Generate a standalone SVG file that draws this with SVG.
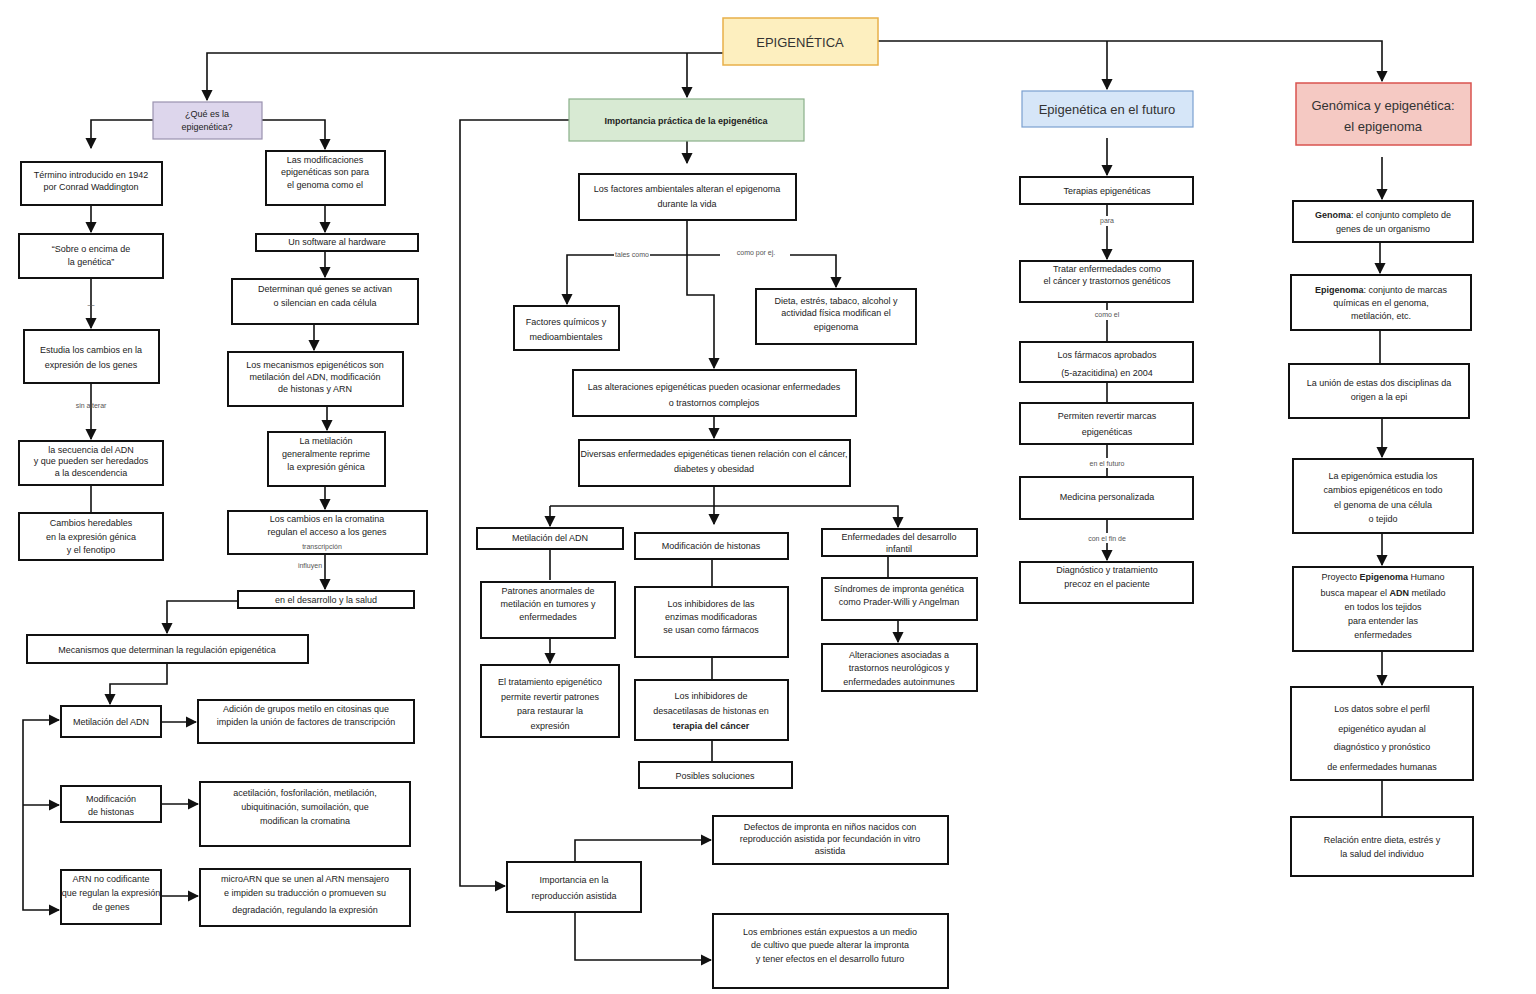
<svg xmlns="http://www.w3.org/2000/svg" width="1536" height="994" viewBox="0 0 1536 994">
<style>
.b{fill:#fff;stroke:#111;stroke-width:2}
.t{font-family:"Liberation Sans",Arial,sans-serif;font-size:9px;fill:#222;text-anchor:middle}
.h{font-family:"Liberation Sans",Arial,sans-serif;font-size:13px;fill:#333;text-anchor:middle}
.l{font-family:"Liberation Sans",Arial,sans-serif;font-size:7px;fill:#555;text-anchor:middle}
.c{fill:none;stroke:#111;stroke-width:1.6}
</style>
<defs><marker id="a" viewBox="0 0 10 10" refX="9" refY="5" markerWidth="7" markerHeight="7" orient="auto"><path d="M0,0L10,5L0,10z" fill="#111"/></marker></defs>
<rect width="1536" height="994" fill="#fff"/>
<g id="connectors">
<path class="c" d="M723,53H207V100" marker-end="url(#a)"/>
<path class="c" d="M687,53V97" marker-end="url(#a)"/>
<path class="c" d="M878,41H1382V81" marker-end="url(#a)"/>
<path class="c" d="M1107,41V89" marker-end="url(#a)"/>
<path class="c" d="M153,120H91V148" marker-end="url(#a)"/>
<path class="c" d="M262,120H325V149" marker-end="url(#a)"/>
<path class="c" d="M91,205V232" marker-end="url(#a)"/>
<path class="c" d="M91,278V328" marker-end="url(#a)"/>
<path class="c" d="M91,383V439" marker-end="url(#a)"/>
<path class="c" d="M91,485V513"/>
<path class="c" d="M325,205V232" marker-end="url(#a)"/>
<path class="c" d="M325,251V277" marker-end="url(#a)"/>
<path class="c" d="M314,324V350" marker-end="url(#a)"/>
<path class="c" d="M327,406V430" marker-end="url(#a)"/>
<path class="c" d="M325,486V509" marker-end="url(#a)"/>
<path class="c" d="M325,554V589" marker-end="url(#a)"/>
<path class="c" d="M238,601H167V633" marker-end="url(#a)"/>
<path class="c" d="M167,663V684H110V704" marker-end="url(#a)"/>
<path class="c" d="M161,722H196" marker-end="url(#a)"/>
<path class="c" d="M161,804H198" marker-end="url(#a)"/>
<path class="c" d="M161,896H198" marker-end="url(#a)"/>
<path class="c" d="M23,805V720H59" marker-end="url(#a)"/>
<path class="c" d="M23,805H59" marker-end="url(#a)"/>
<path class="c" d="M23,805V910H59" marker-end="url(#a)"/>
<path class="c" d="M687,141V163" marker-end="url(#a)"/>
<path class="c" d="M687,220V295H714V368" marker-end="url(#a)"/>
<path class="c" d="M614,255H567V304" marker-end="url(#a)"/>
<path class="c" d="M650,255H720"/>
<path class="c" d="M790,255H836V287" marker-end="url(#a)"/>
<path class="c" d="M714,416V438" marker-end="url(#a)"/>
<path class="c" d="M714,486V524" marker-end="url(#a)"/>
<path class="c" d="M550,506H898V527" marker-end="url(#a)"/>
<path class="c" d="M550,506V526" marker-end="url(#a)"/>
<path class="c" d="M550,549V580"/>
<path class="c" d="M550,638V663" marker-end="url(#a)"/>
<path class="c" d="M712,559V587"/>
<path class="c" d="M712,657V680"/>
<path class="c" d="M712,740V762"/>
<path class="c" d="M888,556V578"/>
<path class="c" d="M898,620V642" marker-end="url(#a)"/>
<path class="c" d="M569,120H460V886H505" marker-end="url(#a)"/>
<path class="c" d="M575,862V840H711" marker-end="url(#a)"/>
<path class="c" d="M575,912V960H711" marker-end="url(#a)"/>
<path class="c" d="M1107,138V175" marker-end="url(#a)"/>
<path class="c" d="M1107,204V216M1107,226V259" marker-end="url(#a)"/>
<path class="c" d="M1107,302V310M1107,320V342"/>
<path class="c" d="M1107,382V403"/>
<path class="c" d="M1107,444V458M1107,468V477"/>
<path class="c" d="M1107,519V533M1107,543V560" marker-end="url(#a)"/>
<path class="c" d="M1382,157V199" marker-end="url(#a)"/>
<path class="c" d="M1380,242V273" marker-end="url(#a)"/>
<path class="c" d="M1380,330V364"/>
<path class="c" d="M1382,418V457" marker-end="url(#a)"/>
<path class="c" d="M1382,533V565" marker-end="url(#a)"/>
<path class="c" d="M1382,651V685" marker-end="url(#a)"/>
<path class="c" d="M1382,780V817"/>
</g>
<g id="title"><rect x="723" y="18" width="155" height="47" fill="#fdefbf" stroke="#e8b04a" stroke-width="1.5"/><text class="h" x="800" y="47" font-size="17">EPIGENÉTICA</text></g>
<g id="h1"><rect x="153" y="102" width="109" height="37" fill="#ddd6ec" stroke="#9a92b0" stroke-width="1.2"/><text class="t" x="207" y="117">¿Qué es la</text><text class="t" x="207" y="130">epigenética?</text></g>
<g id="h2"><rect x="569" y="99" width="235" height="42" fill="#d8ead3" stroke="#8ab08a" stroke-width="1.2"/><text class="t" x="686" y="124" font-weight="bold">Importancia práctica de la epigenética</text></g>
<g id="h3"><rect x="1022" y="91" width="171" height="36" fill="#d6e6f8" stroke="#7aa0d0" stroke-width="1.2"/><text class="h" x="1107" y="114">Epigenética en el futuro</text></g>
<g id="h4"><rect x="1296" y="83" width="175" height="62" fill="#f5c9c3" stroke="#d9534f" stroke-width="1.5"/><text class="h" x="1383" y="110">Genómica y epigenética:</text><text class="h" x="1383" y="131">el epigenoma</text></g>

<g id="a1"><rect class="b" x="21" y="162" width="141" height="43"/><text class="t" x="91" y="178">Término introducido en 1942</text><text class="t" x="91" y="190">por Conrad Waddington</text></g>
<g id="a2"><rect class="b" x="19" y="234" width="144" height="44"/><text class="t" x="91" y="252">“Sobre o encima de</text><text class="t" x="91" y="265">la genética”</text></g>
<text class="l" x="91" y="307">—</text>
<g id="a3"><rect class="b" x="24" y="330" width="135" height="53"/><text class="t" x="91" y="353">Estudia los cambios en la</text><text class="t" x="91" y="368">expresión de los genes</text></g>
<text class="l" x="91" y="408">sin alterar</text>
<g id="a4"><rect class="b" x="19" y="441" width="144" height="44"/><text class="t" x="91" y="453">la secuencia del ADN</text><text class="t" x="91" y="464">y que pueden ser heredados</text><text class="t" x="91" y="476">a la descendencia</text></g>
<g id="a5"><rect class="b" x="19" y="513" width="144" height="47"/><text class="t" x="91" y="526">Cambios heredables</text><text class="t" x="91" y="540">en la expresión génica</text><text class="t" x="91" y="553">y el fenotipo</text></g>

<g id="b1"><rect class="b" x="266" y="151" width="119" height="54"/><text class="t" x="325" y="163">Las modificaciones</text><text class="t" x="325" y="175">epigenéticas son para</text><text class="t" x="325" y="188">el genoma como el</text></g>
<g id="b2"><rect class="b" x="256" y="234" width="162" height="17"/><text class="t" x="337" y="245">Un software al hardware</text></g>
<g id="b3"><rect class="b" x="232" y="279" width="186" height="45"/><text class="t" x="325" y="292">Determinan qué genes se activan</text><text class="t" x="325" y="306">o silencian en cada célula</text></g>
<g id="b4"><rect class="b" x="228" y="352" width="175" height="54"/><text class="t" x="315" y="368">Los mecanismos epigenéticos son</text><text class="t" x="315" y="380">metilación del ADN, modificación</text><text class="t" x="315" y="392">de histonas y ARN</text></g>
<g id="b5"><rect class="b" x="268" y="432" width="117" height="54"/><text class="t" x="326" y="444">La metilación</text><text class="t" x="326" y="457">generalmente reprime</text><text class="t" x="326" y="470">la expresión génica</text></g>
<g id="b6"><rect class="b" x="228" y="511" width="199" height="43"/><text class="t" x="327" y="522">Los cambios en la cromatina</text><text class="t" x="327" y="535">regulan el acceso a los genes</text><text class="l" x="322" y="549">transcripción</text></g>
<text class="l" x="310" y="568">influyen</text>
<g id="b7"><rect class="b" x="238" y="591" width="176" height="17"/><text class="t" x="326" y="603">en el desarrollo y la salud</text></g>
<g id="b8"><rect class="b" x="27" y="635" width="281" height="28"/><text class="t" x="167" y="653">Mecanismos que determinan la regulación epigenética</text></g>
<g id="b9"><rect class="b" x="61" y="706" width="100" height="31"/><text class="t" x="111" y="725">Metilación del ADN</text></g>
<g id="b9r"><rect class="b" x="198" y="700" width="216" height="43"/><text class="t" x="306" y="712">Adición de grupos metilo en citosinas que</text><text class="t" x="306" y="725">impiden la unión de factores de transcripción</text></g>
<g id="b10"><rect class="b" x="61" y="786" width="100" height="36"/><text class="t" x="111" y="802">Modificación</text><text class="t" x="111" y="815">de histonas</text></g>
<g id="b10r"><rect class="b" x="200" y="782" width="210" height="64"/><text class="t" x="305" y="796">acetilación, fosforilación, metilación,</text><text class="t" x="305" y="810">ubiquitinación, sumoilación, que</text><text class="t" x="305" y="824">modifican la cromatina</text></g>
<g id="b11"><rect class="b" x="61" y="870" width="100" height="54"/><text class="t" x="111" y="882">ARN no codificante</text><text class="t" x="111" y="896">que regulan la expresión</text><text class="t" x="111" y="910">de genes</text></g>
<g id="b11r"><rect class="b" x="200" y="869" width="210" height="57"/><text class="t" x="305" y="882">microARN que se unen al ARN mensajero</text><text class="t" x="305" y="896">e impiden su traducción o promueven su</text><text class="t" x="305" y="913">degradación, regulando la expresión</text></g>

<g id="c1"><rect class="b" x="579" y="174" width="217" height="46"/><text class="t" x="687" y="192">Los factores ambientales alteran el epigenoma</text><text class="t" x="687" y="207">durante la vida</text></g>
<text class="l" x="632" y="257">tales como</text><text class="l" x="756" y="255">como por ej.</text>
<g id="c2l"><rect class="b" x="514" y="306" width="105" height="44"/><text class="t" x="566" y="325">Factores químicos y</text><text class="t" x="566" y="340">medioambientales</text></g>
<g id="c2r"><rect class="b" x="756" y="289" width="160" height="55"/><text class="t" x="836" y="304">Dieta, estrés, tabaco, alcohol y</text><text class="t" x="836" y="316">actividad física modifican el</text><text class="t" x="836" y="330">epigenoma</text></g>
<g id="c3"><rect class="b" x="573" y="370" width="283" height="46"/><text class="t" x="714" y="390">Las alteraciones epigenéticas pueden ocasionar enfermedades</text><text class="t" x="714" y="406">o trastornos complejos</text></g>
<g id="c4"><rect class="b" x="579" y="440" width="271" height="46"/><text class="t" x="714" y="457">Diversas enfermedades epigenéticas tienen relación con el cáncer,</text><text class="t" x="714" y="472">diabetes y obesidad</text></g>
<g id="c5a"><rect class="b" x="477" y="528" width="146" height="21"/><text class="t" x="550" y="541">Metilación del ADN</text></g>
<g id="c5b"><rect class="b" x="635" y="533" width="153" height="26"/><text class="t" x="711" y="549">Modificación de histonas</text></g>
<g id="c5c"><rect class="b" x="822" y="529" width="155" height="27"/><text class="t" x="899" y="540">Enfermedades del desarrollo</text><text class="t" x="899" y="552">infantil</text></g>
<g id="c6a"><rect class="b" x="481" y="582" width="134" height="56"/><text class="t" x="548" y="594">Patrones anormales de</text><text class="t" x="548" y="607">metilación en tumores y</text><text class="t" x="548" y="620">enfermedades</text></g>
<g id="c6b"><rect class="b" x="635" y="587" width="153" height="70"/><text class="t" x="711" y="607">Los inhibidores de las</text><text class="t" x="711" y="620">enzimas modificadoras</text><text class="t" x="711" y="633">se usan como fármacos</text></g>
<g id="c6c"><rect class="b" x="822" y="578" width="155" height="42"/><text class="t" x="899" y="592">Síndromes de impronta genética</text><text class="t" x="899" y="605">como Prader-Willi y Angelman</text></g>
<g id="c7a"><rect class="b" x="481" y="665" width="138" height="72"/><text class="t" x="550" y="685">El tratamiento epigenético</text><text class="t" x="550" y="700">permite revertir patrones</text><text class="t" x="550" y="714">para restaurar la</text><text class="t" x="550" y="729">expresión</text></g>
<g id="c7b"><rect class="b" x="635" y="680" width="153" height="60"/><text class="t" x="711" y="699">Los inhibidores de</text><text class="t" x="711" y="714">desacetilasas de histonas en</text><text class="t" x="711" y="729" font-weight="bold">terapia del cáncer</text></g>
<g id="c7c"><rect class="b" x="822" y="644" width="155" height="47"/><text class="t" x="899" y="658">Alteraciones asociadas a</text><text class="t" x="899" y="671">trastornos neurológicos y</text><text class="t" x="899" y="685">enfermedades autoinmunes</text></g>
<g id="c8b"><rect class="b" x="639" y="762" width="153" height="26"/><text class="t" x="715" y="779">Posibles soluciones</text></g>
<g id="d1"><rect class="b" x="507" y="862" width="134" height="50"/><text class="t" x="574" y="883">Importancia en la</text><text class="t" x="574" y="899">reproducción asistida</text></g>
<g id="e1"><rect class="b" x="713" y="816" width="235" height="48"/><text class="t" x="830" y="830">Defectos de impronta en niños nacidos con</text><text class="t" x="830" y="842">reproducción asistida por fecundación in vitro</text><text class="t" x="830" y="854">asistida</text></g>
<g id="e2"><rect class="b" x="713" y="914" width="235" height="74"/><text class="t" x="830" y="935">Los embriones están expuestos a un medio</text><text class="t" x="830" y="948">de cultivo que puede alterar la impronta</text><text class="t" x="830" y="962">y tener efectos en el desarrollo futuro</text></g>

<g id="f1"><rect class="b" x="1020" y="177" width="173" height="27"/><text class="t" x="1107" y="194">Terapias epigenéticas</text></g>
<text class="l" x="1107" y="223">para</text>
<g id="f2"><rect class="b" x="1020" y="261" width="173" height="41"/><text class="t" x="1107" y="272">Tratar enfermedades como</text><text class="t" x="1107" y="284">el cáncer y trastornos genéticos</text></g>
<text class="l" x="1107" y="317">como el</text>
<g id="f3"><rect class="b" x="1020" y="342" width="173" height="40"/><text class="t" x="1107" y="358">Los fármacos aprobados</text><text class="t" x="1107" y="376">(5-azacitidina) en 2004</text></g>
<g id="f4"><rect class="b" x="1020" y="403" width="173" height="41"/><text class="t" x="1107" y="419">Permiten revertir marcas</text><text class="t" x="1107" y="435">epigenéticas</text></g>
<text class="l" x="1107" y="466">en el futuro</text>
<g id="f5"><rect class="b" x="1020" y="477" width="173" height="42"/><text class="t" x="1107" y="500">Medicina personalizada</text></g>
<text class="l" x="1107" y="541">con el fin de</text>
<g id="f6"><rect class="b" x="1020" y="562" width="173" height="41"/><text class="t" x="1107" y="573">Diagnóstico y tratamiento</text><text class="t" x="1107" y="587">precoz en el paciente</text></g>

<g id="g1"><rect class="b" x="1293" y="201" width="180" height="41"/><text class="t" x="1383" y="218"><tspan font-weight="bold">Genoma</tspan>: el conjunto completo de</text><text class="t" x="1383" y="232">genes de un organismo</text></g>
<g id="g2"><rect class="b" x="1291" y="275" width="180" height="55"/><text class="t" x="1381" y="293"><tspan font-weight="bold">Epigenoma</tspan>: conjunto de marcas</text><text class="t" x="1381" y="306">químicas en el genoma,</text><text class="t" x="1381" y="319">metilación, etc.</text></g>
<g id="g3"><rect class="b" x="1289" y="364" width="180" height="54"/><text class="t" x="1379" y="386">La unión de estas dos disciplinas da</text><text class="t" x="1379" y="400">origen a la epi</text></g>
<g id="g4"><rect class="b" x="1293" y="459" width="180" height="74"/><text class="t" x="1383" y="479">La epigenómica estudia los</text><text class="t" x="1383" y="493">cambios epigenéticos en todo</text><text class="t" x="1383" y="508">el genoma de una célula</text><text class="t" x="1383" y="522">o tejido</text></g>
<g id="g5"><rect class="b" x="1293" y="567" width="180" height="84"/><text class="t" x="1383" y="580">Proyecto <tspan font-weight="bold">Epigenoma</tspan> Humano</text><text class="t" x="1383" y="596">busca mapear el <tspan font-weight="bold">ADN</tspan> metilado</text><text class="t" x="1383" y="610">en todos los tejidos</text><text class="t" x="1383" y="624">para entender las</text><text class="t" x="1383" y="638">enfermedades</text></g>
<g id="g6"><rect class="b" x="1291" y="687" width="182" height="93"/><text class="t" x="1382" y="712">Los datos sobre el perfil</text><text class="t" x="1382" y="732">epigenético ayudan al</text><text class="t" x="1382" y="750">diagnóstico y pronóstico</text><text class="t" x="1382" y="770">de enfermedades humanas</text></g>
<g id="g7"><rect class="b" x="1291" y="817" width="182" height="59"/><text class="t" x="1382" y="843">Relación entre dieta, estrés y</text><text class="t" x="1382" y="857">la salud del individuo</text></g>
</svg>
